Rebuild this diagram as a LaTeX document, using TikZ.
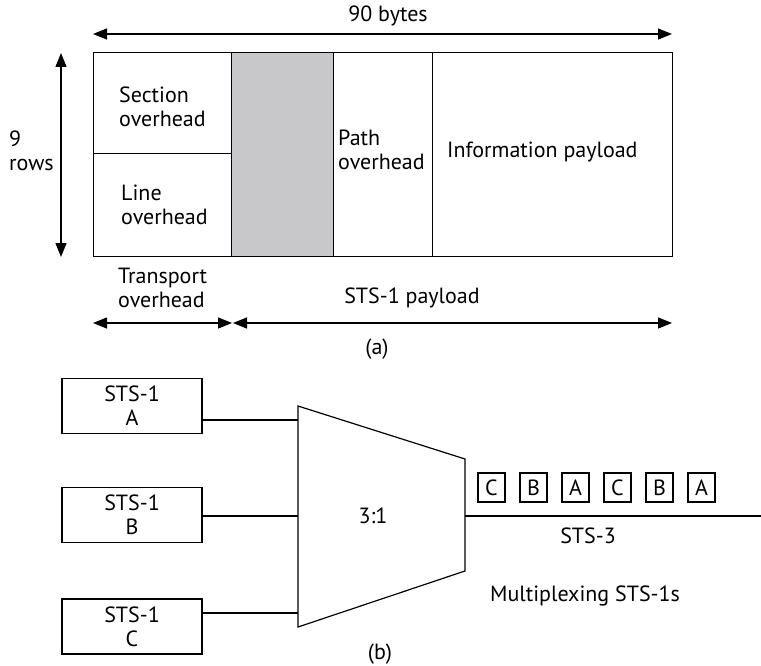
\documentclass[tikz,border=0pt]{standalone}
\usepackage{fontspec}
\setmainfont{PT Sans}
\usetikzlibrary{arrows.meta}
\begin{document}
\begin{tikzpicture}[x=1pt,y=-1pt,
  every node/.style={font=\fontsize{22}{24}\selectfont, inner sep=0pt},
  cell/.style={draw, line width=1.2pt, anchor=north west, minimum width=#1},
  lbl/.style={anchor=west, align=left},
  dim/.style={line width=1.2pt, {Triangle[length=14pt,width=11pt]}-{Triangle[length=14pt,width=11pt]}},
  wire/.style={line width=1.2pt},
  srcbox/.style={draw, line width=1.2pt, minimum width=140pt, minimum height=55pt, align=center},
  frm/.style={draw, line width=1.2pt, minimum width=27pt, minimum height=29pt}
]
\useasboundingbox (0,0) rectangle (761,666);
% (a) frame
\node[cell=138pt, minimum height=101pt] (sec) at (93,52) {};
\node[cell=138pt, minimum height=103pt] (line) at (93,153) {};
\node[cell=102pt, minimum height=204pt, fill={rgb,255:red,200;green,200;blue,202}] (gray) at (231,52) {};
\node[cell=99pt, minimum height=204pt] (path) at (333,52) {};
\node[cell=240pt, minimum height=204pt] (info) at (432,52) {};
\node[lbl] (tsec) at (119,107) {Section\\overhead};
\node[lbl] (tline) at (121,205) {Line\\overhead};
\node[lbl] (tpath) at (338,150) {Path\\overhead};
\node[lbl] (tinfo) at (447,152) {Information payload};
% dimension arrows
\coordinate (tl) at (93,34); \coordinate (tr) at (672,34);
\draw[dim] (tl) -- (tr);
\node (bytes) at (388,16) {90 bytes};
\coordinate (vt) at (61,53); \coordinate (vb) at (61,257);
\draw[dim] (vt) -- (vb);
\node[lbl] (rows) at (9,151) {9\\rows};
\coordinate (b1) at (93,323); \coordinate (b2) at (232,323);
\coordinate (b3) at (233,323); \coordinate (b4) at (672,323);
\draw[dim] (b1) -- (b2);
\draw[dim] (b3) -- (b4);
\node[lbl] (ttrans) at (118,288) {Transport\\overhead};
\node (tpay) at (412,298) {STS-1 payload};
\node (capa) at (377,349) {(a)};
% (b)
\node[srcbox] (A) at (132,406) {STS-1\\A};
\node[srcbox] (B) at (132,515) {STS-1\\B};
\node[srcbox] (C) at (132,626.5) {STS-1\\C};
\draw[wire] (298,406) -- (465,459) -- (465,571) -- (298,627) -- cycle;
\node (mux) at (373,516) {3:1};
\coordinate (mA) at (298,420);
\coordinate (mB) at (298,516);
\coordinate (mC) at (298,613);
\coordinate (mo) at (465,516);
\coordinate (end) at (761,516);
\draw[wire] (A.east |- mA) -- (mA);
\draw[wire] (B.east |- mB) -- (mB);
\draw[wire] (C.east |- mC) -- (mC);
\draw[wire] (mo) -- (end);
\node[frm] (f1) at (491.5,487.5) {C};
\node[frm] (f2) at (533.5,487.5) {B};
\node[frm] (f3) at (575.5,487.5) {A};
\node[frm] (f4) at (617.5,487.5) {C};
\node[frm] (f5) at (659.5,487.5) {B};
\node[frm] (f6) at (701.5,487.5) {A};
\node (sts3) at (588,536) {STS-3};
\node (mpx) at (585,596) {Multiplexing STS-1s};
\node (capb) at (380,654) {(b)};
\end{tikzpicture}
\end{document}
